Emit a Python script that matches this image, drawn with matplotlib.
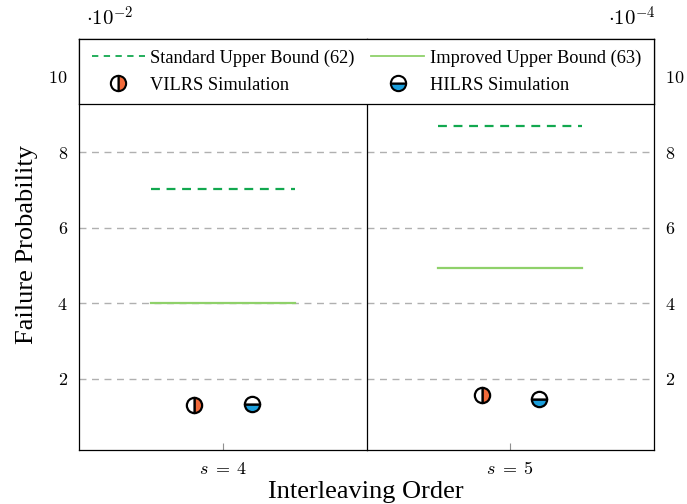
import matplotlib
matplotlib.use("Agg")
import matplotlib.pyplot as plt
from matplotlib.lines import Line2D

plt.rcParams['font.family'] = ['Liberation Serif', 'DejaVu Serif']
plt.rcParams['mathtext.fontset'] = 'cm'

# Data
orders = [4, 5]
order_labels = [r'$s\;=\;4$', r'$s\;=\;5$']
standard_bound = [7.03, 8.70]   # x1e-2 (left), x1e-4 (right)
improved_bound = [4.00, 4.94]
vilrs_sim = [1.31, 1.58]
hilrs_sim = [1.34, 1.47]
scale_labels = [r'$\cdot 10^{-2}$', r'$\cdot 10^{-4}$']
yticks = [2, 4, 6, 8, 10]

std_color = '#12a84f'
imp_color = '#8fd16a'
v_color = '#f26a3a'
h_color = '#1b9fdc'

fig = plt.figure(figsize=(6.87, 5.04), dpi=100)
W, H = 687, 504
left, right, top, bottom = 79, 654, 39, 450
mid = (left + right) / 2
axes = []
for i in range(2):
    x0 = left if i == 0 else mid
    ax = fig.add_axes([x0 / W, 1 - bottom / H, (mid - left) / W, (bottom - top) / H])
    axes.append(ax)

for i, ax in enumerate(axes):
    s = orders[i]
    ax.set_xlim(s - 0.5, s + 0.5)
    ax.set_ylim(0.12, 11.0)
    ax.plot([s - 0.25, s + 0.25], [standard_bound[i]] * 2, color=std_color,
            lw=1.6, ls=(0, (4, 3)), zorder=3)
    ax.plot([s - 0.25, s + 0.25], [improved_bound[i]] * 2, color=imp_color,
            lw=1.6, zorder=3)
    ax.plot([s - 0.1], [vilrs_sim[i]], marker='o', ms=11, mew=1.6, mec='black',
            fillstyle='right', markerfacecolor=v_color, markerfacecoloralt='white',
            ls='none', zorder=4)
    ax.plot([s + 0.1], [hilrs_sim[i]], marker='o', ms=11, mew=1.6, mec='black',
            fillstyle='bottom', markerfacecolor=h_color, markerfacecoloralt='white',
            ls='none', zorder=4)
    ax.set_yticks(yticks)
    ax.set_yticklabels([rf'${t}$' for t in yticks], fontsize=13)
    ax.grid(axis='y', color='#b0b0b0', ls=(0, (5, 4)), lw=1.0)
    ax.set_xticks([s])
    ax.set_xticklabels([order_labels[i]], fontsize=13)
    ax.tick_params(axis='x', direction='in', length=5, color='#909090', width=0.8, pad=8)
    ax.tick_params(axis='y', length=0, pad=8)
    for sp in ax.spines.values():
        sp.set_linewidth(0.9)
    if i == 0:
        ax.spines['right'].set_visible(False)
        ax.yaxis.tick_left()
    else:
        ax.yaxis.tick_right()
        ax.tick_params(axis='y', length=0, pad=8)
    ax.set_axisbelow(True)

fig.text(86 / W, 1 - 19 / H, scale_labels[0], fontsize=15, ha='left', va='center')
fig.text(656 / W, 1 - 19 / H, scale_labels[1], fontsize=15, ha='right', va='center')

fig.text(27 / W, 1 - 245 / H, 'Failure Probability', fontsize=19, rotation=90,
         ha='center', va='center')
fig.text(366 / W, 1 - 492 / H, 'Interleaving Order', fontsize=19, ha='center', va='center')

handles = [
    Line2D([], [], color=std_color, lw=1.3, ls=(0, (3.5, 3))),
    Line2D([], [], marker='o', ms=11, mew=1.5, mec='black', fillstyle='right',
           markerfacecolor=v_color, markerfacecoloralt='white', ls='none'),
    Line2D([], [], color=imp_color, lw=1.3),
    Line2D([], [], marker='o', ms=11, mew=1.5, mec='black', fillstyle='bottom',
           markerfacecolor=h_color, markerfacecoloralt='white', ls='none'),
]
labels = ['Standard Upper Bound (62)', 'VILRS Simulation',
          'Improved Upper Bound (63)', 'HILRS Simulation']
leg_ax = fig.add_axes([left / W, 1 - 104 / H, (right - left) / W, (104 - top) / H])
leg_ax.set_xticks([]); leg_ax.set_yticks([])
for sp in leg_ax.spines.values():
    sp.set_linewidth(0.9)
leg = leg_ax.legend(handles, labels, loc='center', ncol=2, frameon=False, fontsize=13.2,
                    handlelength=2.9, handletextpad=0.3, columnspacing=0.9,
                    labelspacing=0.55, borderaxespad=0)

fig.savefig('out.png', dpi=100)
